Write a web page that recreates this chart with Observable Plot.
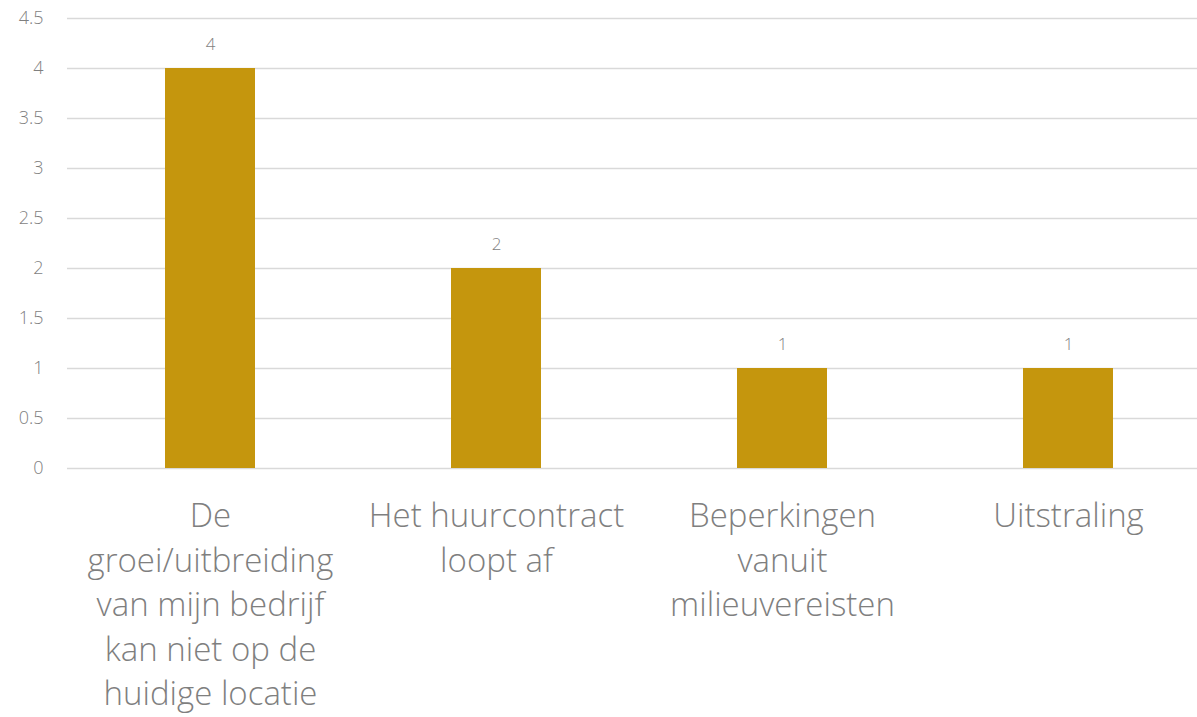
<!DOCTYPE html>
<html>
<head>
<meta charset="utf-8">
<script src="https://cdn.jsdelivr.net/npm/d3@7"></script>
<script src="https://cdn.jsdelivr.net/npm/@observablehq/plot@0.6"></script>
<style>
  html, body { margin: 0; padding: 0; background: #fff; overflow: hidden; }
  #chart svg { display: block; max-width: none !important; }
</style>
</head>
<body>
<div id="chart"></div>
<script>
const categories = [
  "De groei/uitbreiding van mijn bedrijf kan niet op de huidige locatie",
  "Het huurcontract loopt af",
  "Beperkingen vanuit milieuvereisten",
  "Uitstraling"
];
const categoryLabels = [
  "De\ngroei/uitbreiding\nvan mijn bedrijf\nkan niet op de\nhuidige locatie",
  "Het huurcontract\nloopt af",
  "Beperkingen\nvanuit\nmilieuvereisten",
  "Uitstraling"
];
const values = [4, 2, 1, 1];
const yTicks = [0, 0.5, 1, 1.5, 2, 2.5, 3, 3.5, 4, 4.5];
const yTickLabels = ["0", "0.5", "1", "1.5", "2", "2.5", "3", "3.5", "4", "4.5"];

const data = categories.map((c, i) => ({category: c, label: categoryLabels[i], value: values[i]}));
const labelOf = new Map(data.map(d => [d.category, d.label]));
const yLabelOf = new Map(yTicks.map((t, i) => [t, yTickLabels[i]]));

const font = "'Open Sans', sans-serif";
const gray = "#7f7f7f";

const chart = Plot.plot({
  width: 1211,
  height: 717,
  marginLeft: 67,
  marginRight: 0,
  marginTop: 18,
  marginBottom: 249,
  style: {fontFamily: font, fontWeight: 300, color: gray, background: "#fff", maxWidth: "none"},
  x: {domain: categories, paddingInner: 0.685, paddingOuter: 0.3425, align: 0.5, label: null},
  y: {domain: [0, 4.5], label: null},
  marks: [
    Plot.gridY(yTicks, {stroke: "#d9d9d9", strokeOpacity: 1, strokeWidth: 1.5}),
    Plot.barY(data, {x: "category", y: "value", fill: "#C5960D"}),
    Plot.text(data, {x: "category", y: "value", text: d => String(d.value), dy: -24, fontSize: 17, fill: gray, fontWeight: 300}),
    Plot.axisY(yTicks, {tickSize: 0, tickPadding: 24, fontSize: 18, fill: gray, tickFormat: t => yLabelOf.get(t), fontWeight: 300}),
    Plot.axisX({tickSize: 0, tickPadding: 27, fontSize: 33, lineHeight: 1.35, lineAnchor: "top", fill: gray, tickFormat: c => labelOf.get(c), fontWeight: 300})
  ]
});
document.getElementById("chart").appendChild(chart);
</script>
</body>
</html>
